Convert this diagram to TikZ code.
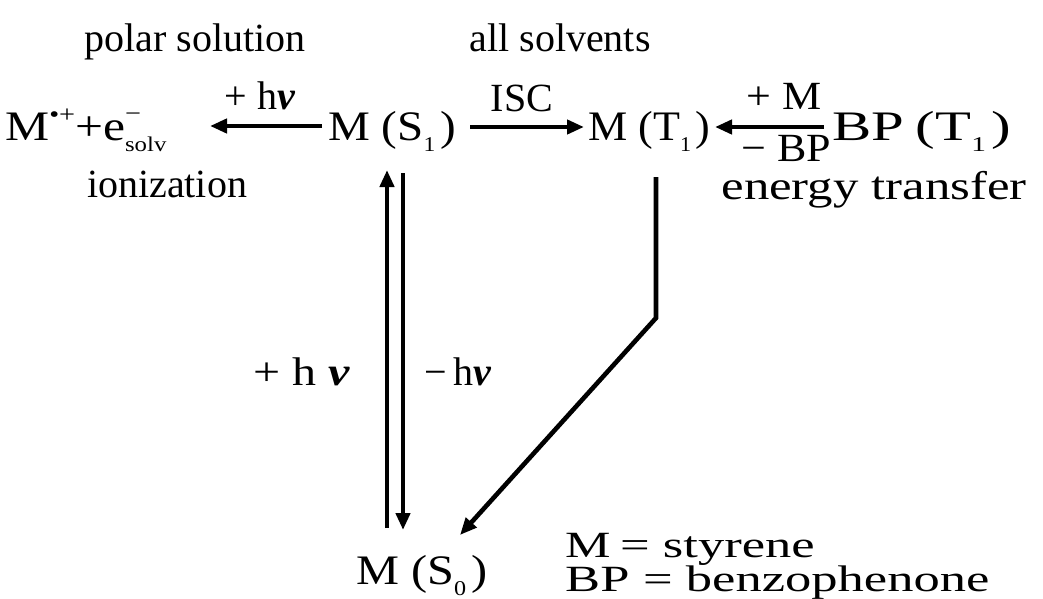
\documentclass[tikz,border=0pt]{standalone}
\usepackage{fontspec}
\setmainfont{Liberation Serif}
\usetikzlibrary{arrows.meta}
\newcommand{\dn}[1]{\raisebox{-0.28em}{\fontsize{21}{21}\selectfont #1}}
\newcommand{\nub}{\textbf{\textit{ν}}}
\newcommand{\sx}[2]{\scalebox{#1}[1]{#2}}
\begin{document}
\begin{tikzpicture}[x=1pt,y=-1pt,
  lbl/.style={inner sep=0pt,font=\fontsize{40}{44}\selectfont},
  big/.style={inner sep=0pt,font=\fontsize{42}{46}\selectfont},
  leg/.style={inner sep=0pt,font=\fontsize{37}{40}\selectfont},
  arr/.style={line width=4.2pt,-{Triangle[length=17pt,width=14pt]}},
  varr/.style={arr,line width=4.6pt}]
\useasboundingbox (0,0) rectangle (1043,599);
% main row
\node[big,anchor=base west] (ion) at (5,140) {\sx{1.18}{M\raisebox{0.42em}{\fontsize{24}{24}\selectfont •+}+e\rlap{\raisebox{0.45em}{\fontsize{24}{24}\selectfont −}}\dn{solv}}};
\node[big,anchor=base west] (s1) at (328,140) {\sx{1.12}{M (S\dn{1}\hspace{0.1em})}};
\node[big,anchor=base west] (t1) at (588,140) {\sx{1.05}{M (T\dn{1}\hspace{0.1em})}};
\node[big,anchor=base west] (bpt) at (832,140) {\sx{1.4}{BP\hspace{0.2em}(T\dn{1}\hspace{0.1em})}};
\node[big,anchor=base west] (s0) at (356,584) {\sx{1.15}{M (S\dn{0}\hspace{0.1em})}};
% headings
\node[lbl,anchor=base] (polar) at (195,52) {polar solution};
\node[lbl,anchor=base] (allsol) at (560,52) {all solvents};
\node[lbl,anchor=base] (ioniz) at (167,197) {ionization};
\node[lbl,anchor=base] (entr) at (874,199) {\sx{1.27}{energy transfer}};
% arrow labels
\node[lbl,anchor=base] (lhv) at (260,110) {+ h\nub};
\node[lbl,anchor=base] (lisc) at (522,112) {ISC};
\node[lbl,anchor=base] (lpm) at (784,110) {\sx{1.1}{+ M}};
\node[lbl,anchor=base] (lmbp) at (786,161) {\sx{1.1}{− BP}};
\node[lbl,anchor=base] (lup) at (302,385) {\sx{1.2}{+ h \nub}};
\node[lbl,anchor=base] (ldn) at (458,385) {−\,h\nub};
% legend
\node[leg,anchor=base west] (legm) at (565,557) {\sx{1.38}{M}};
\node[leg,anchor=base west] (legbp) at (565,591) {\sx{1.42}{BP}};
\node[leg,anchor=base west] (legms) at (620,557) {\sx{1.42}{= styrene}};
\node[leg,anchor=base west] (legbps) at (643,591) {\sx{1.42}{= benzophenone}};
% connector end points
\coordinate (a1s) at (322,126); \coordinate (a1e) at (210,126);
\coordinate (a2s) at (470,127); \coordinate (a2e) at (584,127);
\coordinate (a3s) at (824,127); \coordinate (a3e) at (715,127);
\coordinate (upS) at (387,528); \coordinate (upE) at (387,170);
\coordinate (dnS) at (403,173); \coordinate (dnE) at (403,530);
\coordinate (tS) at (656,177); \coordinate (tB) at (656,318); \coordinate (tE) at (460,535);
% connectors
\draw[arr] (a1s) -- (a1e);
\draw[arr] (a2s) -- (a2e);
\draw[arr] (a3s) -- (a3e);
\draw[varr] (upS) -- (upE);
\draw[varr] (dnS) -- (dnE);
\draw[varr,line join=miter] (tS) -- (tB) -- (tE);
\end{tikzpicture}
\end{document}
